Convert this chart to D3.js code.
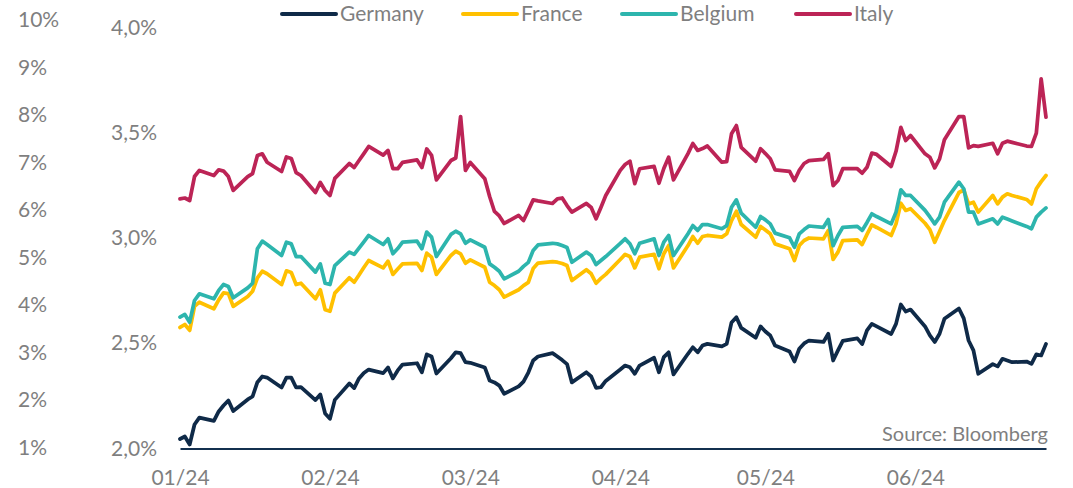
<!DOCTYPE html>
<html>
<head>
<meta charset="utf-8">
<script src="https://cdn.jsdelivr.net/npm/d3@7"></script>
<style>
  html, body { margin: 0; padding: 0; background: #ffffff; }
  svg { display: block; }
  text { font-family: Lato, "Open Sans", sans-serif; fill: #7f7f7f; }
</style>
</head>
<body>
<svg id="chart" width="1073" height="488"></svg>
<script>
// ---------------- DATA ----------------
const dates = [
  "2024-01-01","2024-01-02","2024-01-03","2024-01-04","2024-01-05","2024-01-08","2024-01-09","2024-01-10","2024-01-11","2024-01-12",
  "2024-01-15","2024-01-16","2024-01-17","2024-01-18","2024-01-19","2024-01-22","2024-01-23","2024-01-24","2024-01-25","2024-01-26",
  "2024-01-29","2024-01-30","2024-01-31",
  "2024-02-01","2024-02-02","2024-02-05","2024-02-06","2024-02-07","2024-02-08","2024-02-09","2024-02-12","2024-02-13","2024-02-14",
  "2024-02-15","2024-02-16","2024-02-19","2024-02-20","2024-02-21","2024-02-22","2024-02-23","2024-02-26","2024-02-27","2024-02-28","2024-02-29",
  "2024-03-01","2024-03-04","2024-03-05","2024-03-06","2024-03-07","2024-03-08","2024-03-11","2024-03-12","2024-03-13","2024-03-14",
  "2024-03-15","2024-03-18","2024-03-19","2024-03-20","2024-03-21","2024-03-22","2024-03-25","2024-03-26","2024-03-27","2024-03-28","2024-03-29",
  "2024-04-01","2024-04-02","2024-04-03","2024-04-04","2024-04-05","2024-04-08","2024-04-09","2024-04-10","2024-04-11","2024-04-12",
  "2024-04-15","2024-04-16","2024-04-17","2024-04-18","2024-04-19","2024-04-22","2024-04-23","2024-04-24","2024-04-25","2024-04-26",
  "2024-04-29","2024-04-30",
  "2024-05-01","2024-05-02","2024-05-03","2024-05-06","2024-05-07","2024-05-08","2024-05-09","2024-05-10","2024-05-13","2024-05-14",
  "2024-05-15","2024-05-16","2024-05-17","2024-05-20","2024-05-21","2024-05-22","2024-05-23","2024-05-24","2024-05-27","2024-05-28",
  "2024-05-29","2024-05-30","2024-05-31",
  "2024-06-03","2024-06-04","2024-06-05","2024-06-06","2024-06-07","2024-06-10","2024-06-11","2024-06-12","2024-06-13","2024-06-14",
  "2024-06-17","2024-06-18","2024-06-19","2024-06-20","2024-06-21","2024-06-24","2024-06-25","2024-06-26","2024-06-27","2024-06-28"
];

const germany = [
  2.045,2.057,2.019,2.114,2.147, 2.131,2.176,2.204,2.228,2.178, 2.233,2.247,2.315,2.342,2.337, 2.290,2.337,2.337,2.290,2.292, 2.230,2.257,2.166,
  2.141,2.231, 2.309,2.287,2.333,2.359,2.375, 2.358,2.385,2.333,2.371,2.399, 2.405,2.362,2.447,2.437,2.356, 2.429,2.457,2.453,2.410,
  2.407, 2.385,2.323,2.314,2.299,2.260, 2.295,2.318,2.361,2.418,2.437, 2.453,2.437,2.420,2.401,2.314, 2.362,2.342,2.288,2.291,2.321,
  2.375,2.394,2.386,2.355,2.394, 2.431,2.362,2.434,2.457,2.352, 2.450,2.481,2.457,2.489,2.497, 2.485,2.497,2.599,2.624,2.573, 2.526,2.580,
  2.556,2.537,2.489, 2.461,2.413,2.474,2.499,2.513, 2.506,2.545,2.418,2.466,2.511, 2.523,2.496,2.561,2.592,2.580, 2.544,2.592,2.684,2.651,2.660,
  2.580,2.537,2.506,2.545,2.616, 2.665,2.618,2.513,2.466,2.355, 2.401,2.390,2.426,2.418,2.410, 2.413,2.402,2.447,2.442,2.497
];

const france = [
  2.575,2.589,2.561,2.675,2.695, 2.664,2.706,2.739,2.736,2.675, 2.722,2.747,2.811,2.842,2.830, 2.779,2.844,2.836,2.779,2.785, 2.711,2.754,2.659,
  2.652,2.738, 2.811,2.790,2.824,2.860,2.893, 2.858,2.890,2.827,2.853,2.877, 2.880,2.846,2.928,2.909,2.827, 2.917,2.937,2.925,2.880,
  2.896, 2.861,2.790,2.774,2.754,2.719, 2.754,2.774,2.789,2.855,2.881, 2.888,2.885,2.879,2.869,2.798, 2.849,2.830,2.785,2.808,2.827,
  2.898,2.922,2.912,2.858,2.909, 2.922,2.854,2.925,2.964,2.858, 2.964,3.007,2.975,3.007,3.012, 3.004,3.020,3.083,3.127,3.064, 3.004,3.055,
  3.038,3.020,2.972, 2.949,2.893,2.964,2.988,3.000, 2.996,3.036,2.898,2.933,2.988, 2.991,2.969,3.017,3.062,3.050, 3.012,3.067,3.165,3.131,3.139,
  3.070,3.040,2.980,3.031,3.083, 3.216,3.228,3.162,3.170,3.123, 3.202,3.162,3.194,3.210,3.202, 3.183,3.162,3.234,3.268,3.297
];

const belgium = [
  2.624,2.637,2.600,2.703,2.735, 2.711,2.751,2.779,2.770,2.716, 2.763,2.785,2.949,2.985,2.969, 2.917,2.980,2.972,2.912,2.912, 2.838,2.877,2.785,
  2.779,2.869, 2.933,2.922,2.952,2.982,3.012, 2.969,2.996,2.925,2.950,2.980, 2.985,2.949,3.028,3.004,2.912, 3.017,3.032,3.020,2.975,
  2.991, 2.956,2.877,2.861,2.842,2.806, 2.842,2.865,2.884,2.941,2.967, 2.975,2.972,2.964,2.955,2.885, 2.933,2.917,2.874,2.893,2.912,
  2.974,2.996,2.972,2.925,2.975, 2.996,2.917,2.980,3.012,2.917, 3.020,3.059,3.036,3.064,3.064, 3.044,3.059,3.146,3.181,3.118, 3.051,3.102,
  3.086,3.067,3.023, 3.001,2.956,3.020,3.040,3.057, 3.051,3.088,2.964,3.012,3.051, 3.055,3.036,3.074,3.115,3.102, 3.067,3.123,3.229,3.202,3.202,
  3.131,3.100,3.067,3.099,3.170, 3.265,3.234,3.123,3.123,3.067, 3.091,3.067,3.099,3.090,3.081, 3.055,3.044,3.099,3.123,3.143
];

const italy = [
  3.186,3.190,3.178,3.292,3.321, 3.297,3.324,3.318,3.292,3.226, 3.292,3.306,3.392,3.400,3.360, 3.316,3.385,3.378,3.311,3.297, 3.216,3.264,3.226,
  3.202,3.283, 3.354,3.335,3.368,3.401,3.435, 3.394,3.416,3.330,3.329,3.359, 3.371,3.335,3.423,3.392,3.276, 3.368,3.380,3.577,3.321,
  3.359, 3.281,3.197,3.126,3.105,3.069, 3.107,3.083,3.131,3.181,3.176, 3.164,3.186,3.190,3.154,3.123, 3.164,3.145,3.091,3.145,3.202,
  3.321,3.349,3.365,3.258,3.329, 3.340,3.260,3.330,3.384,3.276, 3.401,3.449,3.416,3.425,3.437, 3.360,3.363,3.495,3.534,3.431, 3.365,3.424,
  3.401,3.376,3.324, 3.316,3.273,3.321,3.354,3.368, 3.373,3.400,3.249,3.273,3.329, 3.329,3.308,3.336,3.403,3.397, 3.340,3.412,3.526,3.463,3.487,
  3.400,3.384,3.333,3.376,3.467, 3.577,3.577,3.428,3.439,3.435, 3.450,3.400,3.450,3.460,3.454, 3.437,3.435,3.498,3.756,3.574
];

const seriesNames = ["Germany", "France", "Belgium", "Italy"];
const seriesColors = ["#0f2a48", "#ffc000", "#2db5ad", "#bc2456"];
const leftTicks = [1, 2, 3, 4, 5, 6, 7, 8, 9, 10];        // outer axis, %
const innerTicks = [2.0, 2.5, 3.0, 3.5, 4.0];             // yield axis, %
const sourceText = "Source: Bloomberg";

// ---------------- CHART ----------------
const svg = d3.select("#chart");
const parse = d3.utcParse("%Y-%m-%d");
const xDates = dates.map(parse);
const allSeries = [germany, france, belgium, italy];

const x = d3.scaleUtc()
  .domain([parse("2024-01-01"), parse("2024-06-28")])
  .range([180, 1046]);
const y = d3.scaleLinear().domain([2.0, 4.0]).range([448.5, 27.5]);
const yOuter = d3.scaleLinear().domain([1, 10]).range([447.5, 20]);

const FS = 21;

// outer (left) axis – labels only
const outer = svg.append("g").attr("transform", "translate(18,0)")
  .call(d3.axisRight(yOuter).tickValues(leftTicks).tickSize(0).tickPadding(0)
    .tickFormat(d => d + "%"));
outer.select(".domain").remove();
outer.selectAll("text").attr("font-size", FS).attr("fill", "#7f7f7f")
  .attr("font-family", "Lato, 'Open Sans', sans-serif");

// inner axis – labels only
const commaFmt = d => d3.format(".1f")(d).replace(".", ",") + "%";
const inner = svg.append("g").attr("transform", "translate(157,0)")
  .call(d3.axisLeft(y).tickValues(innerTicks).tickSize(0).tickPadding(0).tickFormat(commaFmt));
inner.select(".domain").remove();
inner.selectAll("text").attr("font-size", FS).attr("fill", "#7f7f7f")
  .attr("font-family", "Lato, 'Open Sans', sans-serif");

// x axis
const xAxis = svg.append("g").attr("transform", `translate(0,${y(2.0)})`)
  .call(d3.axisBottom(x).ticks(d3.utcMonth.every(1)).tickSize(0).tickPadding(22)
    .tickFormat(d3.utcFormat("%m/%y")));
xAxis.select(".domain").attr("stroke", "#13304f").attr("stroke-width", 2);
xAxis.selectAll("text").attr("font-size", FS).attr("fill", "#7f7f7f")
  .attr("font-family", "Lato, 'Open Sans', sans-serif");

// lines
const line = d3.line()
  .x((d, i) => x(xDates[i]))
  .y(d => y(d));

svg.append("g").selectAll("path")
  .data(allSeries)
  .join("path")
  .attr("d", d => line(d))
  .attr("fill", "none")
  .attr("stroke", (d, i) => seriesColors[i])
  .attr("stroke-width", 3.75)
  .attr("stroke-linejoin", "round")
  .attr("stroke-linecap", "round");

// legend
const legendX = [282, 463, 622, 796];
const lg = svg.append("g").selectAll("g")
  .data(seriesNames)
  .join("g")
  .attr("transform", (d, i) => `translate(${legendX[i]},14)`);
lg.append("line")
  .attr("x1", 0).attr("x2", 54).attr("y1", 0).attr("y2", 0)
  .attr("stroke", (d, i) => seriesColors[i])
  .attr("stroke-width", 4).attr("stroke-linecap", "round");
lg.append("text")
  .attr("x", 58).attr("y", 0).attr("dy", "0.35em")
  .attr("font-size", FS)
  .text(d => d);

// source
svg.append("text")
  .attr("x", 1048).attr("y", 434).attr("dy", "0.35em")
  .attr("text-anchor", "end")
  .attr("font-size", FS - 1)
  .text(sourceText);
</script>
</body>
</html>
